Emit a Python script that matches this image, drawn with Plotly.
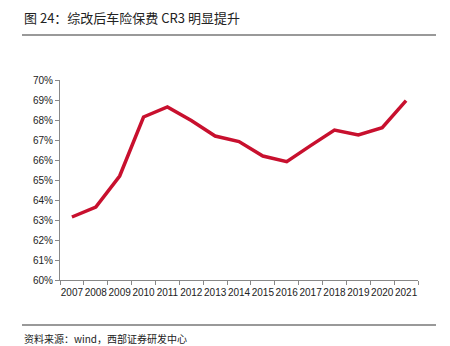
import plotly.graph_objects as go

years = [str(y) for y in range(2007, 2022)]
cr3 = [63.15, 63.65, 65.2, 68.15, 68.65, 67.97, 67.2, 66.92, 66.2, 65.92, 66.72, 67.5, 67.25, 67.62, 68.97]
y_ticks = list(range(60, 71))
y_labels = [f"{v}%" for v in y_ticks]

fig = go.Figure()
fig.add_trace(go.Scatter(x=years, y=cr3, mode="lines",
                         line=dict(color="#C8102E", width=3.5), showlegend=False))

fig.update_layout(
    width=450, height=346,
    margin=dict(l=60, r=32, t=80, b=66),
    paper_bgcolor="white", plot_bgcolor="white",
    font=dict(family="Liberation Sans, Arial, sans-serif", size=10, color="#222"),
)
fig.update_xaxes(type="category", range=[-0.5, 14.5], showgrid=False, showline=True, linecolor="#888", linewidth=1,
                 ticks="outside", tickson="boundaries", ticklen=4, tickcolor="#888", tickangle=0,
                 ticklabelstandoff=3, tickfont=dict(size=10, color="#222"))
fig.update_yaxes(range=[60, 70], tickvals=y_ticks, ticktext=y_labels, showgrid=False,
                 showline=True, linecolor="#888", linewidth=1, ticks="outside", ticklen=4,
                 tickcolor="#888", zeroline=False, tickfont=dict(size=10, color="#222"))

fig.add_annotation(text="图 24：综改后车险保费 CR3 明显提升", xref="paper", yref="paper",
                   x=(22-60)/358, y=(346-66-18)/200, xanchor="left", yanchor="middle", showarrow=False,
                   font=dict(family="Noto Sans CJK SC, Liberation Sans", size=13, color="#222"))
fig.add_annotation(text="资料来源：wind，西部证券研发中心", xref="paper", yref="paper",
                   x=(22-60)/358, y=(346-66-338)/200, xanchor="left", yanchor="middle", showarrow=False,
                   font=dict(family="Noto Sans CJK SC, Liberation Sans", size=10, color="#222"))
fig.add_shape(type="line", xref="paper", yref="paper", x0=(22-60)/358, x1=(436-60)/358,
              y0=(346-66-35)/200, y1=(346-66-35)/200, line=dict(color="#777", width=1.5))
fig.add_shape(type="line", xref="paper", yref="paper", x0=(22-60)/358, x1=(436-60)/358,
              y0=(346-66-325)/200, y1=(346-66-325)/200, line=dict(color="#777", width=1.5))

fig.write_html("out.html")
